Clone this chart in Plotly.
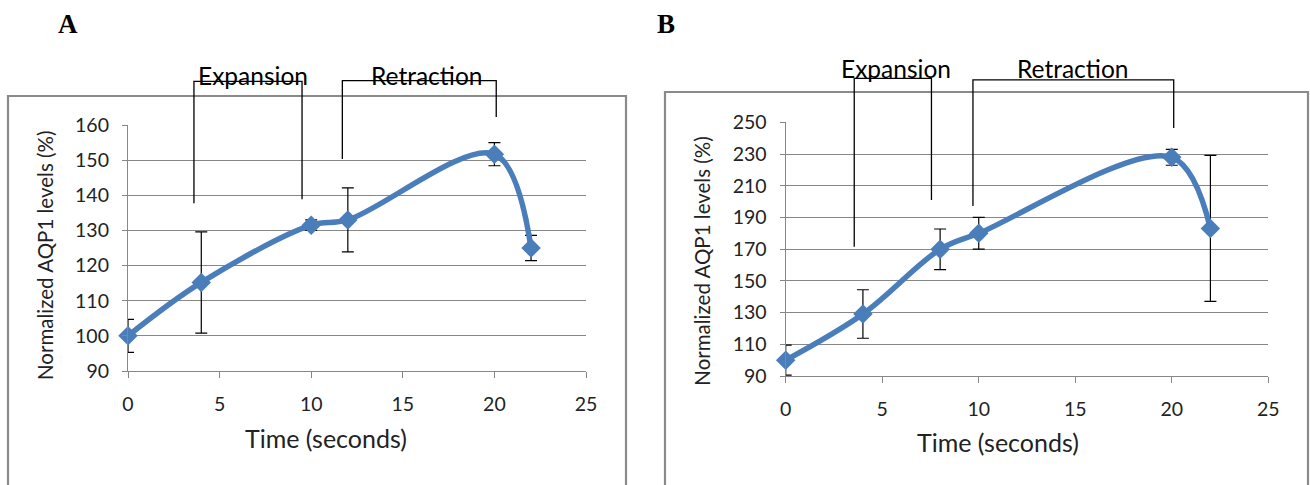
import plotly.graph_objects as go

W, H = 1310, 485

# ---- data ----
time_a = [0, 4, 10, 12, 20, 22]
aqp1_a = [100, 115.2, 131.5, 133, 151.7, 125]
err_a = [4.7, 14.4, 1.5, 9.1, 3.3, 3.6]

time_b = [0, 4, 8, 10, 20, 22]
aqp1_b = [100, 129.1, 169.9, 180, 227.9, 183.1]
err_b = [9.5, 15.3, 12.8, 10, 5, 46]

x_ticks = [0, 5, 10, 15, 20, 25]
y_ticks_a = [90, 100, 110, 120, 130, 140, 150, 160]
y_ticks_b = [90, 110, 130, 150, 170, 190, 210, 230, 250]

# phase brackets: (label, label centre, x_start, x_end, bar level, left end, right end)
phases_a = [
    ("Expansion", 6.8, 3.6, 9.5, 172.4, 137.7, 138.9),
    ("Retraction", 16.3, 11.7, 20.1, 172.6, 150.3, 162.3),
]
phases_b = [
    ("Expansion", 5.7, 3.55, 7.55, 277.7, 171.5, 201.0),
    ("Retraction", 14.85, 9.7, 20.1, 276.7, 197.2, 246.4),
]

# ---- styling ----
BLUE = "#4a7ebb"
GRID = "#878787"
FONT = "Lato, 'Open Sans', sans-serif"

dom_a_x = [128 / W, 586 / W]
dom_a_y = [1 - 371 / H, 1 - 125 / H]
dom_b_x = [785.7 / W, 1268.3 / W]
dom_b_y = [1 - 376 / H, 1 - 122.3 / H]
rng_a = [90, 160]
rng_b = [90, 250]
rng_x = [0, 25]


def paper_y(v, dom, rng):
    return dom[0] + (v - rng[0]) / (rng[1] - rng[0]) * (dom[1] - dom[0])


fig = go.Figure()

for t, v, e, xa, ya in [(time_a, aqp1_a, err_a, "x", "y"),
                        (time_b, aqp1_b, err_b, "x2", "y2")]:
    fig.add_trace(go.Scatter(
        x=t, y=v, xaxis=xa, yaxis=ya, mode="lines+markers",
        line=dict(color=BLUE, width=5.5, shape="spline", smoothing=1.0),
        marker=dict(symbol="diamond", size=15, color=BLUE),
        error_y=dict(type="data", array=e, visible=True, color="black",
                     thickness=1.2, width=6),
        showlegend=False, cliponaxis=False,
    ))

axis_common = dict(
    gridcolor=GRID, gridwidth=1.2,
    showline=True, linecolor=GRID, linewidth=1.2,
    ticks="outside", tickcolor=GRID, zeroline=False,
    tickfont=dict(family=FONT, size=19.5, color="#222"),
)

fig.update_layout(
    width=W, height=H, margin=dict(l=0, r=0, t=0, b=0, autoexpand=False),
    paper_bgcolor="white", plot_bgcolor="white",
    xaxis=dict(domain=dom_a_x, range=rng_x, tickvals=x_ticks, anchor="y",
               ticklen=6, ticklabelstandoff=9, showgrid=False, **axis_common),
    yaxis=dict(domain=dom_a_y, range=rng_a, tickvals=y_ticks_a, anchor="x",
               ticklen=5, ticklabelstandoff=9, showgrid=True, **axis_common),
    xaxis2=dict(domain=dom_b_x, range=rng_x, tickvals=x_ticks, anchor="y2",
                ticklen=6, ticklabelstandoff=9, showgrid=False, **axis_common),
    yaxis2=dict(domain=dom_b_y, range=rng_b, tickvals=y_ticks_b, anchor="x2",
                ticklen=5, ticklabelstandoff=9, showgrid=True, **axis_common),
)

shapes = []
annotations = []

# outer chart frames
for x0, x1, top in [(8, 626, 96), (665, 1308, 92)]:
    shapes.append(dict(type="rect", xref="paper", yref="paper",
                       x0=x0 / W, x1=x1 / W, y0=-0.05, y1=1 - top / H,
                       line=dict(color="#8a8a8a", width=2.2), layer="below"))

# phase brackets and labels
for phases, xref, dom, rng, label_y in [(phases_a, "x", dom_a_y, rng_a, 1 - 75 / H),
                                        (phases_b, "x2", dom_b_y, rng_b, 1 - 68.5 / H)]:
    for label, xc, xs, xe, top, lend, rend in phases:
        ptop = paper_y(top, dom, rng)
        path = (f"M {xs},{paper_y(lend, dom, rng)} L {xs},{ptop} "
                f"L {xe},{ptop} L {xe},{paper_y(rend, dom, rng)}")
        shapes.append(dict(type="path", xref=xref, yref="paper", path=path,
                           line=dict(color="black", width=1.3)))
        annotations.append(dict(text=label, xref=xref, yref="paper",
                                x=xc, y=label_y, showarrow=False,
                                xanchor="center", yanchor="middle",
                                font=dict(family=FONT, size=24.5, color="black")))

# axis titles
for x, y in [(45, 256), (701.7, 261)]:
    annotations.append(dict(text="Normalized AQP1 levels (%)", xref="paper", yref="paper",
                            x=x / W, y=1 - y / H, textangle=-90, showarrow=False,
                            xanchor="center", yanchor="middle",
                            font=dict(family=FONT, size=20.5, color="#222")))
for x, y in [(325.5, 438), (997.5, 442)]:
    annotations.append(dict(text="Time (seconds)", xref="paper", yref="paper",
                            x=x / W, y=1 - y / H, showarrow=False,
                            xanchor="center", yanchor="middle",
                            font=dict(family=FONT, size=25, color="#222")))

# panel letters
for letter, x in [("A", 67.5), ("B", 665.5)]:
    annotations.append(dict(text=f"<b>{letter}</b>", xref="paper", yref="paper",
                            x=x / W, y=1 - 24 / H, showarrow=False,
                            xanchor="center", yanchor="middle",
                            font=dict(family="Liberation Serif, Times New Roman, serif",
                                      size=27, color="black")))

fig.update_layout(shapes=shapes, annotations=annotations)
fig.write_html("out.html")
